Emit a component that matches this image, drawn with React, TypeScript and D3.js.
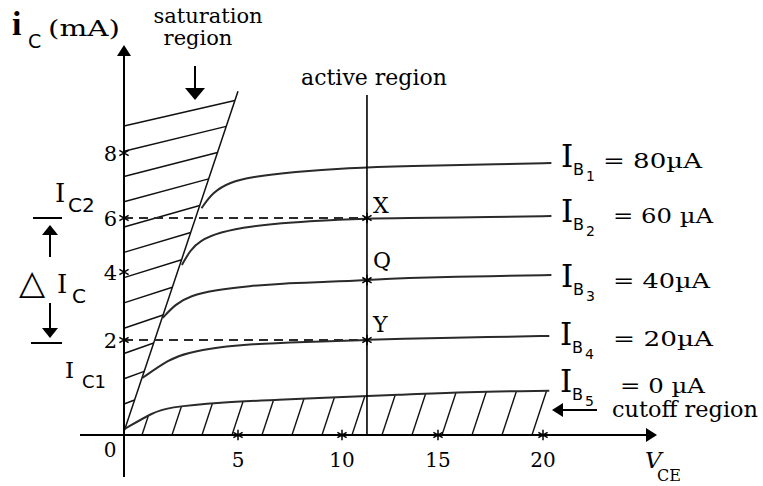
import * as d3 from "d3";
import { FC, useEffect, useRef } from "react";

// axis ticks: V_CE in volts, i_C in mA
const VCE_TICKS: number[] = [5, 10, 15, 20];
const IC_TICKS: number[] = [2, 4, 6, 8];

// output characteristics, [V_CE (V), i_C (mA)]
const IB1: [number, number][] = [
  [3.4, 6.3], [3.9, 6.8], [4.65, 7.1], [5.6, 7.26], [7.7, 7.42],
  [10.3, 7.54], [13.4, 7.6], [18.1, 7.66], [20.4, 7.69],
];
const IB2: [number, number][] = [
  [2.54, 4.26], [2.9, 4.8], [3.3, 5.15], [4.2, 5.48], [5.6, 5.7],
  [7.7, 5.85], [9.4, 5.92], [11.3, 5.98], [12.9, 6.0], [17.8, 6.03], [20.4, 6.06],
];
const IB3: [number, number][] = [
  [1.7, 2.65], [2.25, 3.05], [2.9, 3.3], [4.0, 3.47], [5.6, 3.59],
  [7.0, 3.66], [9.4, 3.71], [11.3, 3.76], [12.9, 3.83], [17.8, 3.88], [20.4, 3.91],
];
const IB4: [number, number][] = [
  [0.8, 1.2], [2.0, 1.6], [2.75, 1.73], [4.2, 1.85], [5.5, 1.91],
  [8.2, 1.96], [11.3, 2.0], [12.5, 2.03], [17.8, 2.09], [20.3, 2.12],
];
const IB5: [number, number][] = [
  [0, 0.12], [1.3, 0.48], [1.9, 0.58], [4.2, 0.69], [7.0, 0.74],
  [9.7, 0.8], [12.9, 0.84], [16.3, 0.91], [20.3, 0.93],
];
const CURVES = [IB1, IB2, IB3, IB4, IB5];
const IB_VALUES: number[] = [80, 60, 40, 20, 0]; // µA

// saturation boundary and the operating line
const SAT_LINE: [number, number][] = [[0.02, 0.1], [5.0, 9.9]];
const ACTIVE_VCE = 11.3;
const POINT_NAMES: string[] = ["X", "Q", "Y"];
const POINT_IC: number[] = [6, 3.76, 2];
const IC2 = 6;
const IC1 = 2;

const SERIF = "DejaVu Serif";
const SANS = "DejaVu Sans";

const App: FC = () => {
  const ref = useRef<SVGSVGElement | null>(null);

  useEffect(() => {
    if (!ref.current) return;
    const svg = d3.select(ref.current);
    svg.selectAll("*").remove();

    // the sketch is not drawn to a uniform scale, so both scales are polylinear
    const x = d3.scaleLinear().domain([0, 5, 10, 15, 20]).range([124, 238, 342, 438, 543]);
    const y = d3.scaleLinear().domain([0, 2, 4, 6, 8]).range([435, 340, 272, 218, 153]);

    const line = d3
      .line<[number, number]>()
      .x((d) => x(d[0]))
      .y((d) => y(d[1]))
      .curve(d3.curveBasis);

    const area = d3
      .area<[number, number]>()
      .x((d) => x(d[0]))
      .y0(y(0))
      .y1((d) => y(d[1]))
      .curve(d3.curveBasis);

    svg
      .append("defs")
      .append("clipPath")
      .attr("id", "cutoff-clip")
      .append("path")
      .attr("d", area(IB5));

    // cutoff region hatch
    const cut = svg
      .append("g")
      .attr("clip-path", "url(#cutoff-clip)")
      .attr("stroke", "#111")
      .attr("stroke-width", 1.4);
    d3.range(142, 545, 30).forEach((xb) => {
      cut
        .append("line")
        .attr("x1", xb)
        .attr("y1", y(0))
        .attr("x2", xb + 0.33 * 80)
        .attr("y2", y(0) - 80);
    });

    // saturation region hatch, from the i_C axis to the boundary line
    const [s0, s1] = SAT_LINE.map((d) => [x(d[0]), y(d[1])]);
    const k = (s1[0] - s0[0]) / (s1[1] - s0[1]);
    const x0 = x(0);
    const starts = d3.range(12).map((i) => 404 - (i * (404 - 126)) / 11);
    starts.forEach((py, i) => {
      const slope = 0.38 - (0.15 * i) / 11;
      const t = (s0[0] + k * (py - s0[1]) - x0) / (1 + k * slope);
      svg
        .append("line")
        .attr("x1", x0)
        .attr("y1", py)
        .attr("x2", x0 + t)
        .attr("y2", py - slope * t)
        .attr("stroke", "#111")
        .attr("stroke-width", 1.5);
    });

    // saturation boundary
    svg
      .append("line")
      .attr("x1", s0[0])
      .attr("y1", s0[1])
      .attr("x2", s1[0])
      .attr("y2", s1[1])
      .attr("stroke", "#111")
      .attr("stroke-width", 1.5);

    // characteristic curves
    CURVES.forEach((c) => {
      svg
        .append("path")
        .attr("d", line(c))
        .attr("fill", "none")
        .attr("stroke", "#2a2a2a")
        .attr("stroke-width", 2);
    });

    // dashed guides to I_C2 and I_C1
    [IC2, IC1].forEach((v) => {
      svg
        .append("line")
        .attr("x1", x(0))
        .attr("y1", y(v))
        .attr("x2", x(ACTIVE_VCE))
        .attr("y2", y(v))
        .attr("stroke", "#2a2a2a")
        .attr("stroke-width", 2)
        .attr("stroke-dasharray", "9 6");
    });

    // active region line
    svg
      .append("line")
      .attr("x1", x(ACTIVE_VCE))
      .attr("y1", y(0))
      .attr("x2", x(ACTIVE_VCE))
      .attr("y2", 95)
      .attr("stroke", "#000")
      .attr("stroke-width", 1.6);

    // axes with arrowheads
    svg
      .append("line")
      .attr("x1", x(0))
      .attr("y1", 477)
      .attr("x2", x(0))
      .attr("y2", 54)
      .attr("stroke", "#000")
      .attr("stroke-width", 2);
    svg
      .append("line")
      .attr("x1", 80)
      .attr("y1", y(0))
      .attr("x2", 648)
      .attr("y2", y(0))
      .attr("stroke", "#000")
      .attr("stroke-width", 2);

    const arrow = (tx: number, ty: number, dir: "up" | "down" | "left" | "right", len = 11, half = 7) => {
      let pts: [number, number][] = [];
      if (dir === "up") pts = [[tx, ty], [tx - half, ty + len], [tx + half, ty + len]];
      if (dir === "down") pts = [[tx, ty], [tx - half, ty - len], [tx + half, ty - len]];
      if (dir === "right") pts = [[tx, ty], [tx - len, ty - half], [tx - len, ty + half]];
      if (dir === "left") pts = [[tx, ty], [tx + len, ty - half], [tx + len, ty + half]];
      svg.append("path").attr("d", "M" + pts.join("L") + "Z").attr("fill", "#000");
    };
    const stem = (xa: number, ya: number, xb: number, yb: number) =>
      svg
        .append("line")
        .attr("x1", xa)
        .attr("y1", ya)
        .attr("x2", xb)
        .attr("y2", yb)
        .attr("stroke", "#000")
        .attr("stroke-width", 2);

    arrow(x(0), 45, "up", 11, 7);
    arrow(657, y(0), "right", 11, 7);

    // tick stars
    const star = d3.symbol().type((d3 as any).symbolAsterisk ?? d3.symbolCross).size(80);
    const mark = (px: number, py: number) =>
      svg
        .append("path")
        .attr("d", star()!)
        .attr("transform", `translate(${px},${py})`)
        .attr("fill", "none")
        .attr("stroke", "#000")
        .attr("stroke-width", 1.5);
    IC_TICKS.forEach((v) => mark(x(0), y(v)));
    VCE_TICKS.forEach((v) => mark(x(v), y(0)));
    POINT_IC.forEach((v) => mark(x(ACTIVE_VCE), y(v)));

    const text = (
      s: string,
      px: number,
      py: number,
      size: number,
      opts: {
        anchor?: string;
        family?: string;
        weight?: string;
        style?: string;
        len?: number;
        baseline?: string;
      } = {}
    ) => {
      const t = svg
        .append("text")
        .attr("x", px)
        .attr("y", py)
        .attr("font-size", size)
        .attr("font-family", opts.family ?? SERIF)
        .attr("text-anchor", opts.anchor ?? "start")
        .attr("fill", "#000")
        .text(s);
      if (opts.weight) t.attr("font-weight", opts.weight);
      if (opts.style) t.attr("font-style", opts.style);
      if (opts.len) t.attr("textLength", opts.len).attr("lengthAdjust", "spacingAndGlyphs");
      if (opts.baseline) t.attr("dominant-baseline", opts.baseline);
      return t;
    };

    // tick labels
    IC_TICKS.forEach((v) => text(String(v), 117, y(v) + 1, 21, { anchor: "end", baseline: "central" }));
    VCE_TICKS.forEach((v) => text(String(v), x(v), 467, 20, { anchor: "middle" }));
    text("0", 110, 457, 20, { anchor: "middle" });

    // axis titles
    text("i", 12, 35, 34, { family: "Liberation Serif", weight: "bold" });
    text("C", 28, 48, 19, { family: SANS });
    text("(mA)", 48, 36, 23, { len: 72 });
    text("V", 645, 468, 23, { style: "italic" });
    text("CE", 657, 481, 16);

    // region annotations
    text("saturation", 208, 23, 21, { anchor: "middle" });
    text("region", 198, 45, 21, { anchor: "middle" });
    stem(195, 66, 195, 90);
    arrow(195, 100, "down", 12, 10);

    text("active region", 374, 85, 22, { anchor: "middle" });

    stem(563, 410, 597, 410);
    arrow(552, 410, "left", 11, 7);
    text("cutoff region", 612, 417, 22, { len: 146 });

    // operating points
    const pointBase = [213, 268, 332];
    POINT_NAMES.forEach((n, i) => text(n, x(ACTIVE_VCE) + 6, pointBase[i], 22));

    // base current labels
    const labelBase = [167, 222, 287, 345, 392];
    const labelX = [561, 561, 561, 560, 560];
    const valueX = [603, 613, 613, 613, 620];
    const valueLen = [99, 100, 97, 100, 85];
    const valueText = ["= 80µA", "= 60 µA", "= 40µA", "= 20µA", "= 0 µA"];
    IB_VALUES.forEach((v, i) => {
      const bx = labelX[i];
      const by = labelBase[i];
      text("I", bx, by, 31);
      text("B", bx + 12, by + 8, 16, { family: SANS });
      text(String(i + 1), bx + 25, by + 14, 14, { family: SANS });
      text(valueText[i].replace(/\d+/, String(v)), valueX[i], by + 1, 21, { len: valueLen[i] });
    });

    // ΔI_C bracket on the left
    svg.append("line").attr("x1", 33).attr("y1", y(IC2)).attr("x2", 62).attr("y2", y(IC2)).attr("stroke", "#000").attr("stroke-width", 2);
    svg.append("line").attr("x1", 31).attr("y1", y(IC1) + 3).attr("x2", 62).attr("y2", y(IC1) + 3).attr("stroke", "#000").attr("stroke-width", 2);
    stem(50, 234, 50, 257);
    arrow(50, 225, "up", 10, 8);
    stem(50, 303, 50, 329);
    arrow(50, 338, "down", 10, 8);

    text("I", 55, 202, 26);
    text("C2", 68, 212, 20, { family: SANS });
    text("△", 19, 294, 34, { family: SANS });
    text("I", 57, 293, 26);
    text("C", 72, 303, 20, { family: SANS });
    text("I", 65, 378, 23);
    text("C1", 82, 388, 18, { family: SANS });
  }, []);

  return (
    <svg
      ref={ref}
      width={763}
      height={486}
      style={{ position: "absolute", left: 0, top: 0, background: "#fff" }}
    />
  );
};

export default App;
